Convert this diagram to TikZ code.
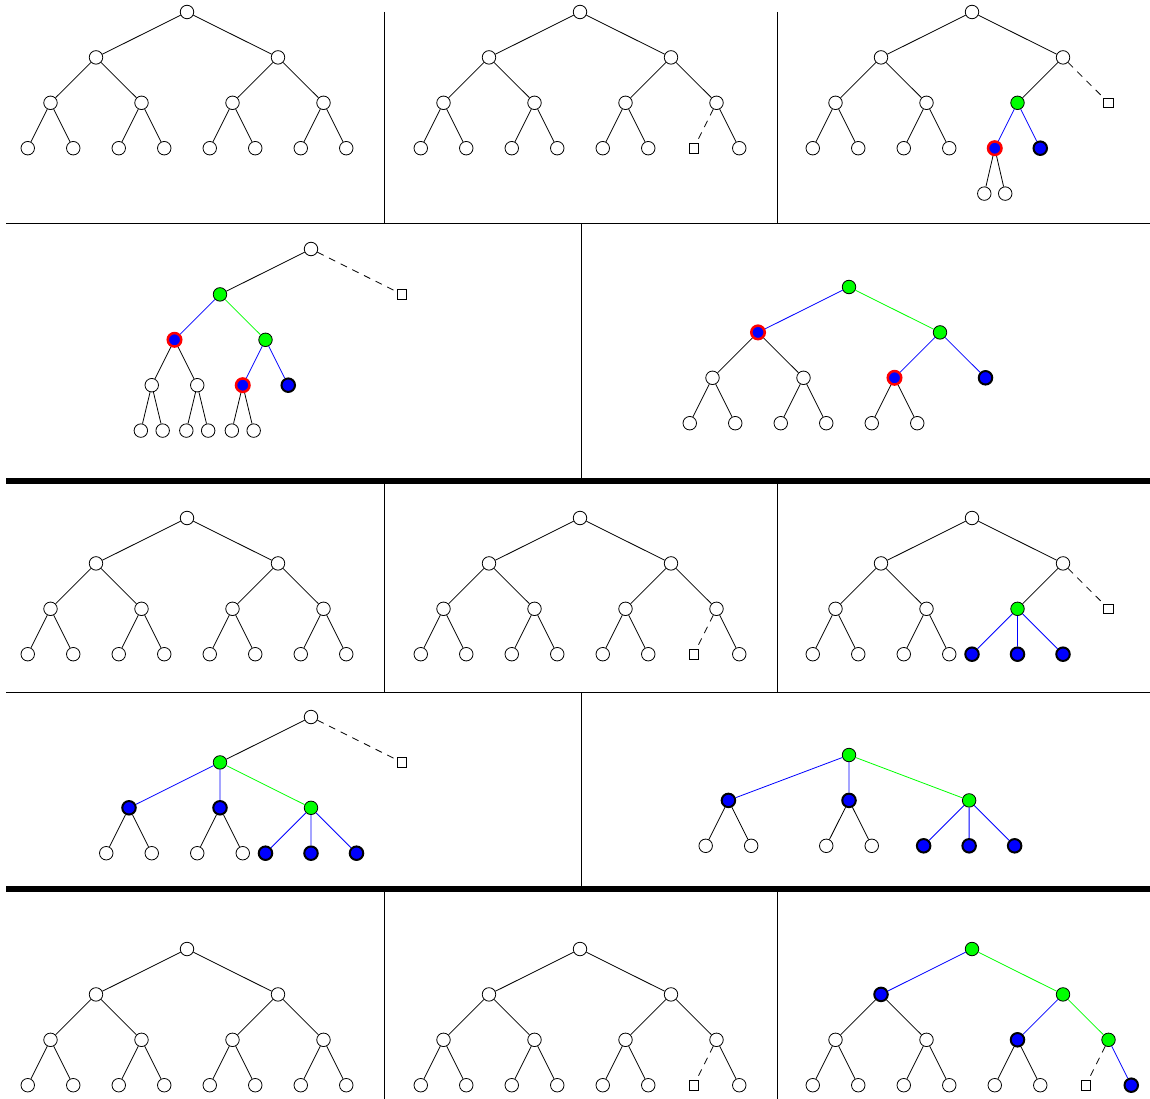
\documentclass[tikz,border=0pt]{standalone}
\usepackage{xcolor}
\usepackage{tikz}
\usetikzlibrary{positioning}

% full binary tree of depth 3, #1 = name, #2 = style of the 7th leaf, #3 = style of its edge
\newcommand{\fulltree}[3]{%
    \node (#1) [wnode] at (0,0) {};
    \node (#1l) [wnode] at (-2,1) {};
    \node (#1r) [wnode] at (2,1) {};
    \node (#1ll) [wnode] at (-3,2) {};
    \node (#1lr) [wnode] at (-1,2) {};
    \node (#1rl) [wnode] at (1,2) {};
    \node (#1rr) [wnode] at (3,2) {};
    \node (#1lll) [wnode] at (-3.5,3) {};
    \node (#1llr) [wnode] at (-2.5,3) {};
    \node (#1lrl) [wnode] at (-1.5,3) {};
    \node (#1lrr) [wnode] at (-0.5,3) {};
    \node (#1rll) [wnode] at (0.5,3) {};
    \node (#1rlr) [wnode] at (1.5,3) {};
    \node (#1rrl) [#2] at (2.5,3) {};
    \node (#1rrr) [wnode] at (3.5,3) {};
    \draw (#1) -- (#1l) (#1) -- (#1r)
          (#1l) -- (#1ll) (#1l) -- (#1lr) (#1r) -- (#1rl) (#1r) -- (#1rr)
          (#1ll) -- (#1lll) (#1ll) -- (#1llr) (#1lr) -- (#1lrl) (#1lr) -- (#1lrr)
          (#1rl) -- (#1rll) (#1rl) -- (#1rlr) (#1rr) -- (#1rrr);
    \draw[#3] (#1rr) -- (#1rrl);
}

% left half of a tree below node #1
\newcommand{\lefthalf}[1]{%
    \node (#1l) [wnode] at (-2,1) {};
    \node (#1ll) [wnode] at (-3,2) {};
    \node (#1lr) [wnode] at (-1,2) {};
    \node (#1lll) [wnode] at (-3.5,3) {};
    \node (#1llr) [wnode] at (-2.5,3) {};
    \node (#1lrl) [wnode] at (-1.5,3) {};
    \node (#1lrr) [wnode] at (-0.5,3) {};
    \draw (#1) -- (#1l) (#1l) -- (#1ll) (#1l) -- (#1lr)
          (#1ll) -- (#1lll) (#1ll) -- (#1llr) (#1lr) -- (#1lrl) (#1lr) -- (#1lrr);
}

\begin{document}
\begin{tikzpicture}[x=1pt, y=-1pt, line width=0.8pt,
    wnode/.style={circle, draw, fill=white, minimum size=13.5pt, inner sep=0pt, line width=0.8pt},
    gnode/.style={wnode, fill=green},
    bnode/.style={wnode, fill=blue, line width=2pt},
    rnode/.style={wnode, fill=blue, draw=red, line width=2.5pt},
    snode/.style={rectangle, draw, fill=white, minimum size=9.5pt, inner sep=0pt, line width=0.8pt},
    bedge/.style={blue},
    gedge/.style={green},
    dedge/.style={dash pattern=on 7pt off 6pt},
    tree/.style={x=45.5pt, y=-45.4pt}]
    \useasboundingbox (0,0) rectangle (1150,1099);

    % Frames
    \draw[line width=1pt] (384,12) -- (384,224) (777,12) -- (777,224);
    \draw[line width=1pt] (6,224) -- (1150,224);
    \draw[line width=1pt] (581,224) -- (581,481);
    \draw[line width=6pt] (6,481) -- (1150,481);
    \draw[line width=1pt] (384,481) -- (384,692) (777,481) -- (777,692);
    \draw[line width=1pt] (6,692) -- (1150,692);
    \draw[line width=1pt] (581,692) -- (581,889);
    \draw[line width=6pt] (6,889) -- (1150,889);
    \draw[line width=1pt] (384,889) -- (384,1099) (777,889) -- (777,1099);

    % Row 1
    \begin{scope}[shift={(187pt,-12pt)}, tree]
        \fulltree{a1}{wnode}{}
    \end{scope}
    \begin{scope}[shift={(580pt,-12pt)}, tree]
        \fulltree{b1}{snode}{dedge}
    \end{scope}
    \begin{scope}[shift={(972pt,-12pt)}, tree]
        \node (c1) [wnode] at (0,0) {};
        \lefthalf{c1}
        \node (c1r) [wnode] at (2,1) {};
        \node (c1s) [snode] at (3,2) {};
        \node (c1g) [gnode] at (1,2) {};
        \node (c1x) [rnode] at (0.5,3) {};
        \node (c1y) [bnode] at (1.5,3) {};
        \node (c1xl) [wnode] at (0.27,4) {};
        \node (c1xr) [wnode] at (0.73,4) {};
        \draw (c1) -- (c1r) (c1r) -- (c1g) (c1x) -- (c1xl) (c1x) -- (c1xr);
        \draw[dedge] (c1r) -- (c1s);
        \draw[bedge] (c1g) -- (c1x) (c1g) -- (c1y);
    \end{scope}

    % Row 2
    \begin{scope}[shift={(311pt,-249pt)}, tree]
        \node (a2) [wnode] at (0,0) {};
        \node (a2s) [snode] at (2,1) {};
        \node (a2g) [gnode] at (-2,1) {};
        \node (a2x) [rnode] at (-3,2) {};
        \node (a2h) [gnode] at (-1,2) {};
        \node (a2xl) [wnode] at (-3.5,3) {};
        \node (a2xr) [wnode] at (-2.5,3) {};
        \node (a2y) [rnode] at (-1.5,3) {};
        \node (a2z) [bnode] at (-0.5,3) {};
        \node (a2xla) [wnode] at (-3.74,4) {};
        \node (a2xlb) [wnode] at (-3.26,4) {};
        \node (a2xra) [wnode] at (-2.74,4) {};
        \node (a2xrb) [wnode] at (-2.26,4) {};
        \node (a2ya) [wnode] at (-1.74,4) {};
        \node (a2yb) [wnode] at (-1.26,4) {};
        \draw (a2) -- (a2g) (a2x) -- (a2xl) (a2x) -- (a2xr)
              (a2xl) -- (a2xla) (a2xl) -- (a2xlb) (a2xr) -- (a2xra) (a2xr) -- (a2xrb)
              (a2y) -- (a2ya) (a2y) -- (a2yb);
        \draw[dedge] (a2) -- (a2s);
        \draw[bedge] (a2g) -- (a2x) (a2h) -- (a2y) (a2h) -- (a2z);
        \draw[gedge] (a2g) -- (a2h);
    \end{scope}
    \begin{scope}[shift={(849pt,-287pt)}, tree]
        \node (b2) [gnode] at (0,0) {};
        \node (b2x) [rnode] at (-2,1) {};
        \node (b2g) [gnode] at (2,1) {};
        \node (b2ll) [wnode] at (-3,2) {};
        \node (b2lr) [wnode] at (-1,2) {};
        \node (b2y) [rnode] at (1,2) {};
        \node (b2z) [bnode] at (3,2) {};
        \node (b2lll) [wnode] at (-3.5,3) {};
        \node (b2llr) [wnode] at (-2.5,3) {};
        \node (b2lrl) [wnode] at (-1.5,3) {};
        \node (b2lrr) [wnode] at (-0.5,3) {};
        \node (b2yl) [wnode] at (0.5,3) {};
        \node (b2yr) [wnode] at (1.5,3) {};
        \draw (b2x) -- (b2ll) (b2x) -- (b2lr)
              (b2ll) -- (b2lll) (b2ll) -- (b2llr) (b2lr) -- (b2lrl) (b2lr) -- (b2lrr)
              (b2y) -- (b2yl) (b2y) -- (b2yr);
        \draw[bedge] (b2) -- (b2x) (b2g) -- (b2y) (b2g) -- (b2z);
        \draw[gedge] (b2) -- (b2g);
    \end{scope}

    % Row 3
    \begin{scope}[shift={(187pt,-518pt)}, tree]
        \fulltree{a3}{wnode}{}
    \end{scope}
    \begin{scope}[shift={(580pt,-518pt)}, tree]
        \fulltree{b3}{snode}{dedge}
    \end{scope}
    \begin{scope}[shift={(972pt,-518pt)}, tree]
        \node (c3) [wnode] at (0,0) {};
        \lefthalf{c3}
        \node (c3r) [wnode] at (2,1) {};
        \node (c3s) [snode] at (3,2) {};
        \node (c3g) [gnode] at (1,2) {};
        \node (c3x) [bnode] at (0,3) {};
        \node (c3y) [bnode] at (1,3) {};
        \node (c3z) [bnode] at (2,3) {};
        \draw (c3) -- (c3r) (c3r) -- (c3g);
        \draw[dedge] (c3r) -- (c3s);
        \draw[bedge] (c3g) -- (c3x) (c3g) -- (c3y) (c3g) -- (c3z);
    \end{scope}

    % Row 4
    \begin{scope}[shift={(311pt,-717pt)}, tree]
        \node (a4) [wnode] at (0,0) {};
        \node (a4s) [snode] at (2,1) {};
        \node (a4g) [gnode] at (-2,1) {};
        \node (a4x) [bnode] at (-4,2) {};
        \node (a4y) [bnode] at (-2,2) {};
        \node (a4h) [gnode] at (0,2) {};
        \node (a4xl) [wnode] at (-4.5,3) {};
        \node (a4xr) [wnode] at (-3.5,3) {};
        \node (a4yl) [wnode] at (-2.5,3) {};
        \node (a4yr) [wnode] at (-1.5,3) {};
        \node (a4p) [bnode] at (-1,3) {};
        \node (a4q) [bnode] at (0,3) {};
        \node (a4t) [bnode] at (1,3) {};
        \draw (a4) -- (a4g) (a4x) -- (a4xl) (a4x) -- (a4xr) (a4y) -- (a4yl) (a4y) -- (a4yr);
        \draw[dedge] (a4) -- (a4s);
        \draw[bedge] (a4g) -- (a4x) (a4g) -- (a4y) (a4h) -- (a4p) (a4h) -- (a4q) (a4h) -- (a4t);
        \draw[gedge] (a4g) -- (a4h);
    \end{scope}
    \begin{scope}[shift={(849pt,-755pt)}, tree]
        \node (b4) [gnode] at (0,0) {};
        \node (b4x) [bnode] at (-2.65,1) {};
        \node (b4y) [bnode] at (0,1) {};
        \node (b4g) [gnode] at (2.64,1) {};
        \node (b4xl) [wnode] at (-3.15,2) {};
        \node (b4xr) [wnode] at (-2.15,2) {};
        \node (b4yl) [wnode] at (-0.5,2) {};
        \node (b4yr) [wnode] at (0.5,2) {};
        \node (b4p) [bnode] at (1.64,2) {};
        \node (b4q) [bnode] at (2.64,2) {};
        \node (b4t) [bnode] at (3.64,2) {};
        \draw (b4x) -- (b4xl) (b4x) -- (b4xr) (b4y) -- (b4yl) (b4y) -- (b4yr);
        \draw[bedge] (b4) -- (b4x) (b4) -- (b4y) (b4g) -- (b4p) (b4g) -- (b4q) (b4g) -- (b4t);
        \draw[gedge] (b4) -- (b4g);
    \end{scope}

    % Row 5
    \begin{scope}[shift={(187pt,-949pt)}, tree]
        \fulltree{a5}{wnode}{}
    \end{scope}
    \begin{scope}[shift={(580pt,-949pt)}, tree]
        \fulltree{b5}{snode}{dedge}
    \end{scope}
    \begin{scope}[shift={(972pt,-949pt)}, tree]
        \node (c5) [gnode] at (0,0) {};
        \node (c5x) [bnode] at (-2,1) {};
        \node (c5g) [gnode] at (2,1) {};
        \node (c5ll) [wnode] at (-3,2) {};
        \node (c5lr) [wnode] at (-1,2) {};
        \node (c5y) [bnode] at (1,2) {};
        \node (c5h) [gnode] at (3,2) {};
        \node (c5lll) [wnode] at (-3.5,3) {};
        \node (c5llr) [wnode] at (-2.5,3) {};
        \node (c5lrl) [wnode] at (-1.5,3) {};
        \node (c5lrr) [wnode] at (-0.5,3) {};
        \node (c5yl) [wnode] at (0.5,3) {};
        \node (c5yr) [wnode] at (1.5,3) {};
        \node (c5s) [snode] at (2.5,3) {};
        \node (c5z) [bnode] at (3.5,3) {};
        \draw (c5x) -- (c5ll) (c5x) -- (c5lr)
              (c5ll) -- (c5lll) (c5ll) -- (c5llr) (c5lr) -- (c5lrl) (c5lr) -- (c5lrr)
              (c5y) -- (c5yl) (c5y) -- (c5yr);
        \draw[dedge] (c5h) -- (c5s);
        \draw[bedge] (c5) -- (c5x) (c5g) -- (c5y) (c5h) -- (c5z);
        \draw[gedge] (c5) -- (c5g) (c5g) -- (c5h);
    \end{scope}
\end{tikzpicture}
\end{document}
